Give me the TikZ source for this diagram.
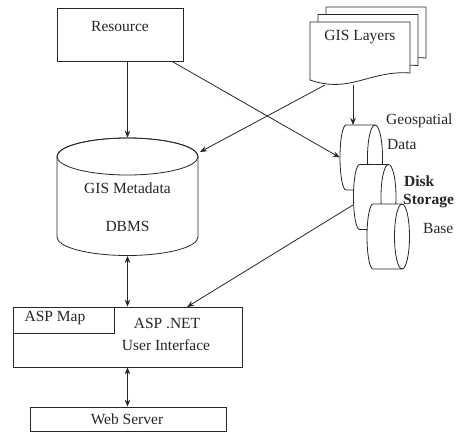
\documentclass[tikz,border=0pt]{standalone}
\usepackage{fontspec}
\setmainfont{Liberation Serif}
\usetikzlibrary{arrows.meta}
\newcommand{\fsA}{\fontsize{15.5}{18}\selectfont}
\tikzset{
  ln/.style={draw=black!85, line width=0.8pt},
  arr/.style={ln, -{Stealth[length=7pt,width=5.5pt]}},
  darr/.style={ln, {Stealth[length=7pt,width=5.5pt]}-{Stealth[length=7pt,width=5.5pt]}},
  box/.style={draw=black!85, line width=0.8pt, fill=white, inner sep=0pt},
  lbl/.style={font=\fsA, text=black!85, inner sep=0pt},
  shp/.style={draw=black!85, line width=0.8pt, fill=white}
}
\begin{document}
\begin{tikzpicture}[x=1pt,y=1pt]
\useasboundingbox (0,0) rectangle (459,-432);

% Resource
\node[box, minimum width=126pt, minimum height=53pt] (res) at (120,-34.5) {};
\node[lbl] (restxt) at (120,-26) {Resource};

% GIS Layers (stack of documents)
\foreach \dx/\dy in {16/15, 8/7.5, 0/0} {
  \begin{scope}[shift={(\dx,\dy)}]
    \path[shp] (310,-22) -- (410,-22) -- (410,-73)
      .. controls (370,-70) and (350,-94) .. (310,-80) -- cycle;
  \end{scope}
}
\node[lbl] (layers) at (360,-37) {GIS Layers};
\coordinate (layA) at (325,-85);
\coordinate (layB) at (353,-85);

% GIS Metadata cylinder
\path[shp] (57,-156.5) -- (57,-237)
  arc[start angle=180, end angle=360, x radius=70.5, y radius=18.5]
  -- (198,-156.5) arc[start angle=0, end angle=180, x radius=70.5, y radius=18.5] -- cycle;
\draw[ln] (127.5,-156.5) ellipse[x radius=70.5, y radius=18.5];
\node[minimum width=141pt, minimum height=118pt, inner sep=0pt] (meta) at (127.5,-196.75) {};
\node[lbl] (metatxt) at (127.5,-188) {GIS Metadata};
\node[lbl] (dbms) at (127.5,-226) {DBMS};
\coordinate (metaR) at (200,-152);

% Disk storage cylinders
\foreach \i/\L/\T in {1/340/125, 2/353.5/164.5, 3/367/204} {
  \path[shp] (\L+6,-\T) -- (\L+35,-\T)
    arc[start angle=90, end angle=-90, x radius=7.5, y radius=32.5]
    -- (\L+6,-\T-65)
    arc[start angle=270, end angle=90, x radius=6, y radius=32.5] -- cycle;
  \draw[ln] (\L+35,-\T) arc[start angle=90, end angle=270, x radius=7.5, y radius=32.5];
  \node[minimum width=42.5pt, minimum height=65pt, inner sep=0pt] (geo\i) at (\L+21.25,-\T-32.5) {};
}
\coordinate (geoTop) at (353,-125);
\coordinate (geo2L) at (353,-205);

\node[lbl, anchor=west] (geotxt) at (386,-121) {Geospatial};
\node[lbl, anchor=west] (datatxt) at (387,-144) {Data};
\node[lbl, anchor=west, font=\fsA\bfseries] (disktxt) at (404,-181) {Disk};
\node[lbl, anchor=west, font=\fsA\bfseries] (stortxt) at (403,-201) {Storage};
\node[lbl, anchor=west] (basetxt) at (423,-228) {Base};

% ASP.NET box
\node[box, minimum width=229pt, minimum height=60pt] (asp) at (127.5,-337) {};
\node[box, minimum width=101pt, minimum height=26pt] (aspmap) at (63.5,-320) {};
\node[lbl] (aspmaptxt) at (55,-318) {ASP Map};
\node[lbl] (asptxt) at (167,-323) {ASP .NET};
\node[lbl] (uitxt) at (166,-345) {User Interface};
\coordinate (aspTop) at (187,-307);

% Web Server
\node[box, minimum width=196pt, minimum height=24pt] (web) at (128,-419) {};
\node[lbl] (webtxt) at (127,-419) {Web Server};

% Connectors
\draw[arr] (res.south -| meta.north) -- (meta.north);
\draw[arr] (res.south -| 172,0) -- (geo1.west);
\draw[arr] (layA) -- (metaR);
\draw[arr] (layB) -- (geoTop);
\draw[arr] (geo2L) -- (aspTop);
\draw[darr] (meta.south) -- (meta.south |- asp.north);
\draw[darr] (asp.south -| meta.south) -- (meta.south |- web.north);
\end{tikzpicture}
\end{document}
